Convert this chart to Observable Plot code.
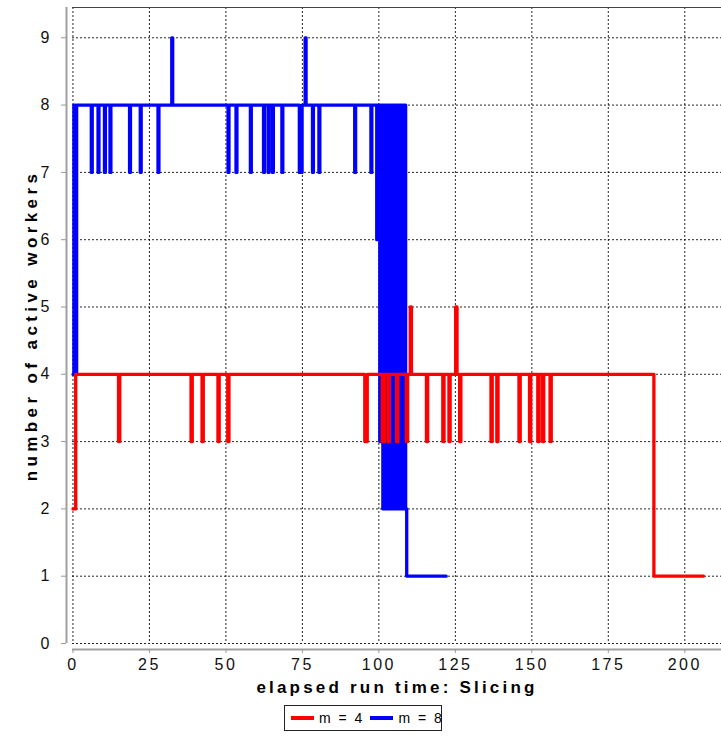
<!DOCTYPE html>
<html>
<head>
<meta charset="utf-8">
<script src="https://cdn.jsdelivr.net/npm/d3@7"></script>
<script src="https://cdn.jsdelivr.net/npm/@observablehq/plot@0.6"></script>
<style>
  html, body { margin: 0; padding: 0; background: #fff; }
  #wrap { position: relative; width: 721px; height: 748px; font-family: "Liberation Sans", Arial, sans-serif; }
  #wrap svg { font-family: "Liberation Sans", Arial, sans-serif; }
  #legend { position: absolute; left: 284px; top: 705px; width: 156px; height: 24px; border: 1px solid #222;
            display: flex; align-items: center; font-size: 14px; letter-spacing: 2px; color: #000;
            white-space: nowrap; box-sizing: content-box; }
  #legend .sw { display: inline-block; flex: none; width: 23px; height: 4px; margin: 0 5px 0 6px; }
</style>
</head>
<body>
<div id="wrap"></div>
<script>
// ---- data ----
const seriesNames = ["m = 4", "m = 8"];
const seriesColors = ["#ff0000", "#0000ff"];
const xTicks = [0, 25, 50, 75, 100, 125, 150, 175, 200];
const yTicks = [0, 1, 2, 3, 4, 5, 6, 7, 8, 9];
const xLabel = "elapsed run time: Slicing";
const yLabel = "number of active workers";

// m = 4 (red): change points (time, active workers)
const redTime = [0, 0.9, 14.9, 15.3, 38.6, 39.0, 42.2, 42.6, 47.4, 47.8, 50.6, 51.0,
  95.4, 96.2, 101.1, 101.8, 103.0, 103.4, 105.8, 106.2, 109.0, 109.4, 110.25, 110.65,
  115.55, 115.95, 120.9, 121.3, 122.9, 123.3, 125.1, 125.55, 126.4, 126.8,
  136.65, 137.05, 138.55, 138.95, 145.8, 146.2, 149.25, 149.65, 151.95, 152.35,
  153.5, 153.9, 155.95, 156.35, 189.9, 206.1];
const redWorkers = [2, 4, 3, 4, 3, 4, 3, 4, 3, 4, 3, 4,
  3, 4, 3, 4, 3, 4, 3, 4, 3, 4, 5, 4,
  3, 4, 3, 4, 3, 4, 5, 4, 3, 4,
  3, 4, 3, 4, 3, 4, 3, 4, 3, 4,
  3, 4, 3, 4, 1, 1];

// m = 8 (blue): change points (time, active workers)
const blueTime = [0, 0.3, 0.8, 1.2, 6.0, 6.3, 8.2, 8.5, 10.3, 10.6, 12.1, 12.4,
  18.5, 18.8, 22.0, 22.3, 27.8, 28.1, 32.3, 32.6, 50.7, 51.0, 53.3, 53.6,
  58.0, 58.3, 62.3, 62.6, 63.8, 64.1, 65.2, 65.5, 68.3, 68.6, 74.0, 74.9,
  75.9, 76.2, 78.3, 78.6, 80.4, 80.7, 92.1, 92.4, 97.4, 97.7,
  99.3, 99.55, 99.8, 100.05, 100.3, 100.55, 100.8, 101.05, 101.3, 101.55,
  101.8, 102.05, 102.3, 102.55, 102.8, 103.05, 103.3, 103.55, 103.8, 104.05,
  104.3, 104.55, 104.8, 105.05, 105.3, 105.55, 105.8, 106.05, 106.3, 106.55,
  106.8, 107.05, 107.3, 107.55, 107.8, 108.05, 108.3, 108.55, 108.75, 109.1, 122.0];
const blueWorkers = [4, 8, 4, 8, 7, 8, 7, 8, 7, 8, 7, 8,
  7, 8, 7, 8, 7, 8, 9, 8, 7, 8, 7, 8,
  7, 8, 7, 8, 7, 8, 7, 8, 7, 8, 7, 8,
  9, 8, 7, 8, 7, 8, 7, 8, 7, 8,
  6, 8, 6, 8, 3, 8, 3, 8, 2, 8,
  2, 8, 2, 8, 2, 8, 2, 8, 2, 8,
  2, 8, 2, 8, 2, 8, 2, 8, 2, 8,
  2, 8, 2, 8, 2, 8, 2, 8, 2, 1, 1];

// ---- build ----
const red = redTime.map((t, i) => ({t, v: redWorkers[i], s: seriesNames[0]}));
const blue = blueTime.map((t, i) => ({t, v: blueWorkers[i], s: seriesNames[1]}));
const xDomain = [-0.15, 212];
const yDomain = [0, 9.45];

const chart = Plot.plot({
  width: 721,
  height: 705,
  marginLeft: 72,
  marginRight: 0,
  marginTop: 7,
  marginBottom: 62,
  style: {fontFamily: "'Liberation Sans', Arial, sans-serif", background: "#fff", overflow: "visible"},
  x: {domain: xDomain, axis: null},
  y: {domain: yDomain, axis: null},
  color: {domain: seriesNames, range: seriesColors},
  marks: [
    Plot.gridX(xTicks, {stroke: "#000", strokeOpacity: 0.85, strokeDasharray: "2,2"}),
    Plot.gridY(yTicks, {stroke: "#000", strokeOpacity: 0.85, strokeDasharray: "2,2"}),
    Plot.ruleY([yDomain[1]], {stroke: "#444", strokeWidth: 1}),
    Plot.line(blue, {x: "t", y: "v", stroke: "s", curve: "step-after", strokeWidth: 3.3}),
    Plot.line(red, {x: "t", y: "v", stroke: "s", curve: "step-after", strokeWidth: 3.3}),
    // axis lines (offset from the plot area)
    Plot.ruleY([yDomain[0]], {dy: 6, stroke: "#a0a0a0", strokeWidth: 2}),
    Plot.ruleX([xDomain[0]], {dx: -6, stroke: "#a0a0a0", strokeWidth: 2}),
    Plot.axisX(xTicks, {anchor: "bottom", tickSize: 4, tickPadding: 5, dy: 6, stroke: "#999", fill: "#111",
      fontSize: 16, tickFormat: d3.format("d"), label: null}),
    Plot.axisY(yTicks, {anchor: "left", tickSize: 5, tickPadding: 12, dx: -6, stroke: "#999", fill: "#111",
      fontSize: 16, tickFormat: d3.format("d"), label: null}),
    Plot.text([xLabel], {frameAnchor: "bottom", dy: 49, fontSize: 17, fontWeight: "bold", fill: "#000"}),
    Plot.text([yLabel], {frameAnchor: "left", textAnchor: "middle", dx: -41, rotate: -90, fontSize: 17, fontWeight: "bold", fill: "#000"})
  ]
});
document.getElementById("wrap").appendChild(chart);

// letter spacing: axis titles and x tick labels
const xTickStrings = xTicks.map(String);
chart.querySelectorAll("text").forEach(el => {
  const s = el.textContent;
  if (s === xLabel) el.style.letterSpacing = "3.2px";
  else if (s === yLabel) el.style.letterSpacing = "4.4px";
  else if (xTickStrings.includes(s) && el.closest("g") && /x-axis/.test(el.closest("g").getAttribute("aria-label") || "")) el.style.letterSpacing = "2.5px";
});

// legend
const legend = document.createElement("div");
legend.id = "legend";
seriesNames.forEach((name, i) => {
  const sw = document.createElement("span");
  sw.className = "sw";
  sw.style.background = seriesColors[i];
  legend.appendChild(sw);
  const lab = document.createElement("span");
  lab.textContent = name;
  legend.appendChild(lab);
});
document.getElementById("wrap").appendChild(legend);
</script>
</body>
</html>
